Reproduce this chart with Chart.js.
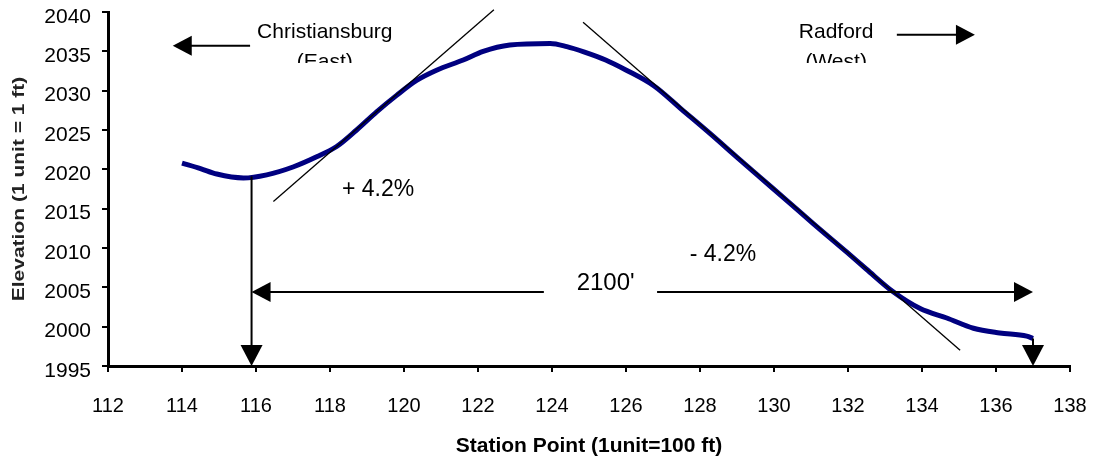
<!DOCTYPE html>
<html>
<head>
<meta charset="utf-8">
<script src="https://cdn.jsdelivr.net/npm/chart.js@4.4.0/dist/chart.umd.min.js"></script>
<style>
    html, body { margin: 0; padding: 0; background: #fff; }
    #wrap { width: 1094px; height: 459px; position: relative; }
</style>
</head>
<body>
<div id="wrap"><canvas id="profile"></canvas></div>
<script>
// Surveyed road profile (station in 100 ft units, elevation in ft)
const stations = [114.0, 114.5, 114.94, 115.66, 116.29, 117.0, 117.64, 118.18, 118.72, 119.26,
    119.8, 120.34, 120.88, 121.6, 122.14, 122.86, 123.95, 124.4, 124.88, 125.45,
    126.01, 126.76, 127.51, 128.26, 129.01, 129.57, 130.38, 131.06, 131.96, 132.5,
    133.23, 133.95, 134.67, 135.39, 136.1, 136.83, 137.0];
const elevations = [2020.8, 2020.1, 2019.4, 2018.9, 2019.3, 2020.3, 2021.6, 2022.9, 2025.0, 2027.3,
    2029.4, 2031.3, 2032.6, 2033.9, 2035.0, 2035.8, 2036.0, 2035.6, 2034.9, 2033.9,
    2032.6, 2030.6, 2027.6, 2024.6, 2021.5, 2019.2, 2015.9, 2013.1, 2009.5, 2007.3,
    2004.4, 2002.3, 2001.1, 1999.8, 1999.2, 1998.8, 1998.5];

// Tangent grade lines
const upGradeX = [116.47, 122.43];
const upGradeY = [2015.9, 2040.3];
const downGradeX = [124.84, 135.03];
const downGradeY = [2038.7, 1997.0];

// Dimension: low point to end of profile
const dimFrom = 115.88;
const dimTo = 137.0;
const dimElev = 2004.4;
const lowPointElev = 2019.1;
const endElev = 1998.5;
const dimGap = [123.78, 126.84];

// Tick range
const xTicks = { min: 112, max: 138, step: 2 };
const yTicks = { min: 1995, max: 2040, step: 5 };

// Text labels placed in data units
const notes = [
    { text: 'Christiansburg', x: 117.86, y: 2037.4, size: 21 },
    { text: '+ 4.2%', x: 119.3, y: 2017.4, size: 23 },
    { text: '- 4.2%', x: 128.62, y: 2009.1, size: 23 },
    { text: "2100'", x: 125.45, y: 2005.5, size: 24 },
    { text: 'Radford', x: 131.68, y: 2037.4, size: 21 }
];
const clippedNotes = [
    { text: '(East)', x: 117.86 },
    { text: '(West)', x: 131.68 }
];
const eastArrow = { from: 115.84, to: 113.75, elev: 2035.7 };
const westArrow = { from: 133.32, to: 135.43, elev: 2037.1 };

const toPoints = (xs, ys) => xs.map((x, i) => ({ x: x, y: ys[i] }));

const head = (ctx, x, y, dir, len, half) => {
    ctx.beginPath();
    ctx.moveTo(x, y);
    if (dir === 'left') { ctx.lineTo(x + len, y - half); ctx.lineTo(x + len, y + half); }
    if (dir === 'right') { ctx.lineTo(x - len, y - half); ctx.lineTo(x - len, y + half); }
    if (dir === 'down') { ctx.lineTo(x - half, y - len); ctx.lineTo(x + half, y - len); }
    ctx.closePath();
    ctx.fill();
};

const seg = (ctx, x1, y1, x2, y2) => {
    ctx.beginPath();
    ctx.moveTo(x1, y1);
    ctx.lineTo(x2, y2);
    ctx.stroke();
};

const notesPlugin = {
    id: 'notes',
    afterDatasetsDraw(chart) {
        const { ctx, scales: { x, y } } = chart;
        ctx.save();
        ctx.strokeStyle = '#000';
        ctx.fillStyle = '#000';
        ctx.lineWidth = 2;

        // vertical drops to axis
        const xa = x.getPixelForValue(dimFrom);
        const xb = x.getPixelForValue(dimTo);
        const yAxis = y.getPixelForValue(yTicks.min);
        seg(ctx, xa, y.getPixelForValue(lowPointElev), xa, yAxis - 18);
        head(ctx, xa, yAxis, 'down', 21, 11);
        seg(ctx, xb, y.getPixelForValue(endElev), xb, yAxis - 18);
        head(ctx, xb, yAxis, 'down', 21, 11);

        // horizontal dimension line
        const yd = y.getPixelForValue(dimElev);
        seg(ctx, xa + 15, yd, x.getPixelForValue(dimGap[0]), yd);
        seg(ctx, x.getPixelForValue(dimGap[1]), yd, xb - 15, yd);
        head(ctx, xa, yd, 'left', 19, 10);
        head(ctx, xb, yd, 'right', 19, 10);

        // direction arrows
        [eastArrow, westArrow].forEach(a => {
            const yy = y.getPixelForValue(a.elev);
            const x1 = x.getPixelForValue(a.from);
            const x2 = x.getPixelForValue(a.to);
            const dir = x2 < x1 ? 'left' : 'right';
            seg(ctx, x1, yy, x2 + (dir === 'left' ? 15 : -15), yy);
            head(ctx, x2, yy, dir, 19, 10);
        });

        // text
        ctx.textAlign = 'center';
        ctx.textBaseline = 'middle';
        notes.forEach(n => {
            ctx.font = n.size + 'px "Liberation Sans", Arial, sans-serif';
            ctx.fillText(n.text, x.getPixelForValue(n.x), y.getPixelForValue(n.y));
        });

        // second lines of the town labels are cut off in the original
        ctx.save();
        ctx.beginPath();
        ctx.rect(0, 0, chart.width, 63);
        ctx.clip();
        ctx.textBaseline = 'alphabetic';
        ctx.font = '21px "Liberation Sans", Arial, sans-serif';
        clippedNotes.forEach(n => {
            ctx.fillText(n.text, x.getPixelForValue(n.x), 68);
        });
        ctx.restore();

        // y axis title (narrow, bold)
        ctx.translate(19, (chart.chartArea.top + chart.chartArea.bottom) / 2);
        ctx.rotate(-Math.PI / 2);
        ctx.scale(1, 0.8);
        ctx.fillStyle = '#222';
        ctx.font = 'bold 21px "Liberation Sans", Arial, sans-serif';
        ctx.fillText('Elevation (1 unit = 1 ft)', 0, 0);
        ctx.restore();
    }
};

const ctx = document.getElementById('profile');

new Chart(ctx, {
    type: 'scatter',
    data: {
        datasets: [
            {
                data: toPoints(stations, elevations),
                showLine: true,
                borderColor: '#000080',
                borderWidth: 5,
                pointRadius: 0,
                cubicInterpolationMode: 'monotone',
                order: 1
            },
            {
                data: toPoints(upGradeX, upGradeY),
                showLine: true,
                borderColor: '#000',
                borderWidth: 1.3,
                pointRadius: 0,
                clip: false,
                order: 0
            },
            {
                data: toPoints(downGradeX, downGradeY),
                showLine: true,
                borderColor: '#000',
                borderWidth: 1.3,
                pointRadius: 0,
                clip: false,
                order: 0
            }
        ]
    },
    options: {
        responsive: true,
        maintainAspectRatio: false,
        animation: false,
        layout: {
            padding: { top: 12, right: 24, left: 0, bottom: 0 }
        },
        plugins: {
            legend: { display: false },
            tooltip: { enabled: false }
        },
        scales: {
            x: {
                type: 'linear',
                min: xTicks.min,
                max: xTicks.max,
                afterFit: (scale) => {
                    scale.height = 93;
                    scale.paddingLeft = 0;
                    scale.paddingRight = 0;
                },
                ticks: {
                    stepSize: xTicks.step,
                    color: '#000',
                    padding: 22,
                    maxRotation: 0,
                    callback: (v) => String(v),
                    font: { family: '"Liberation Sans", Arial, sans-serif', size: 20 }
                },
                grid: { drawOnChartArea: false, drawTicks: true, tickLength: 6, color: '#000', lineWidth: 2 },
                border: { color: '#000', width: 3 },
                title: {
                    display: true,
                    text: 'Station Point (1unit=100 ft)',
                    color: '#000',
                    padding: { top: 0, bottom: 0 },
                    font: { family: '"Liberation Sans", Arial, sans-serif', size: 21, weight: 'bold' }
                }
            },
            y: {
                type: 'linear',
                min: yTicks.min,
                max: yTicks.max,
                afterFit: (scale) => {
                    scale.width = 108;
                    scale.paddingTop = 0;
                    scale.paddingBottom = 0;
                },
                ticks: {
                    stepSize: yTicks.step,
                    color: '#000',
                    padding: 11,
                    labelOffset: 5,
                    callback: (v) => String(v),
                    font: { family: '"Liberation Sans", Arial, sans-serif', size: 21 }
                },
                grid: { drawOnChartArea: false, drawTicks: true, tickLength: 6, color: '#000', lineWidth: 2 },
                border: { color: '#000', width: 3 }
            }
        }
    },
    plugins: [notesPlugin]
});
</script>
</body>
</html>
